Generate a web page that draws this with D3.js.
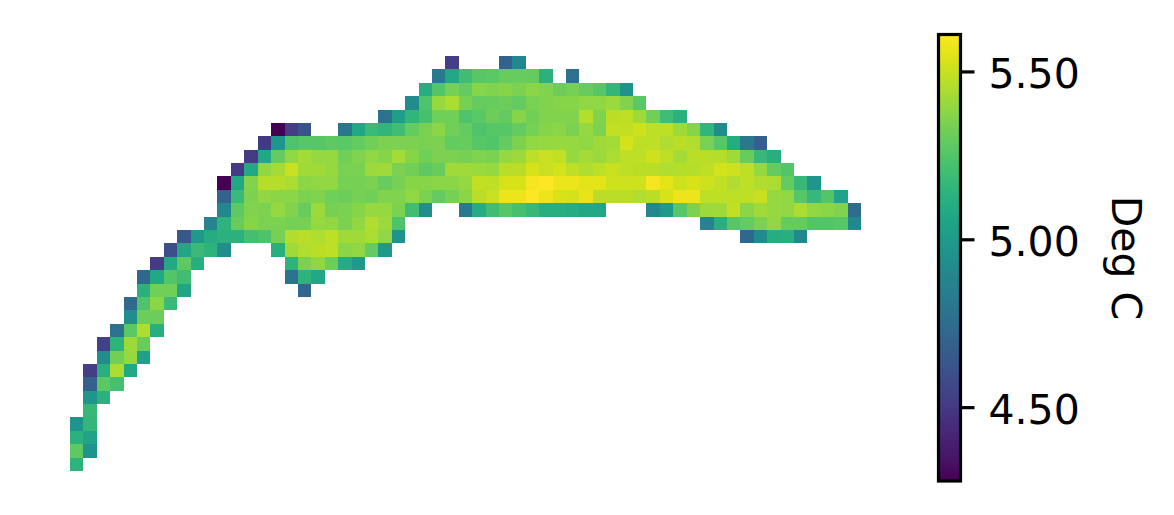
<!DOCTYPE html>
<html lang="en">
<head>
  <meta charset="UTF-8">
  <title>Deg C grid</title>
  <script src="https://d3js.org/d3.v7.min.js"></script>
  <style>
    html, body {
      margin: 0;
      padding: 0;
      background: #fff;
      overflow: hidden;
    }

    svg {
      display: block;
    }

    text {
      font-family: "DejaVu Sans", sans-serif;
      fill: #000;
    }
  </style>
</head>
<body>
  <div id="chart"></div>

  <script>
    const colorTicks = [4.5, 5.0, 5.5];
    const colorLabel = "Deg C";

    // first grid column of each row, top row first
    const rowStart = [28, 27, 26, 25, 23, 15, 14, 13, 12, 11, 11, 11, 10, 8, 7, 6, 5, 5, 4, 4, 3, 2, 2, 1, 1, 1, 1, 0, 0, 0, 0];

    // values, null = empty cell inside a row
    const rowValues = [
      [4.52, null, null, null, 4.70, 4.90],
      [4.82, 5.07, 5.20, 5.26, 5.27, 5.30, 5.30, 5.29, 5.13, null, 4.77],
      [5.11, 5.25, 5.33, 5.29, 5.37, 5.36, 5.37, 5.35, 5.38, 5.36, 5.31, 5.33, 5.30, 5.26, 5.16, 4.96],
      [4.92, 5.24, 5.40, 5.44, 5.33, 5.29, 5.30, 5.31, 5.29, 5.34, 5.36, 5.37, 5.37, 5.39, 5.39, 5.41, 5.36, 5.27],
      [4.77, 5.02, 5.15, 5.22, 5.32, 5.32, 5.24, 5.27, 5.31, 5.29, 5.37, 5.32, 5.36, 5.36, 5.36, 5.46, 5.36, 5.47, 5.48, 5.42, 5.32, 5.20, 5.13],
      [4.28, 4.52, 4.62, null, null, 4.80, 5.07, 5.18, 5.15, 5.20, 5.29, 5.34, 5.38, 5.32, 5.29, 5.24, 5.26, 5.26, 5.29, 5.33, 5.37, 5.38, 5.35, 5.40, 5.35, 5.49, 5.49, 5.51, 5.48, 5.48, 5.42, 5.37, 5.15, 4.92],
      [4.50, 4.98, 5.24, 5.26, 5.26, 5.28, 5.27, 5.29, 5.32, 5.35, 5.35, 5.35, 5.34, 5.35, 5.29, 5.30, 5.26, 5.25, 5.29, 5.35, 5.39, 5.40, 5.40, 5.40, 5.39, 5.42, 5.43, 5.52, 5.48, 5.48, 5.45, 5.47, 5.45, 5.34, 5.26, 5.10, 4.82, 4.68],
      [4.51, 5.07, 5.29, 5.39, 5.43, 5.40, 5.40, 5.32, 5.36, 5.39, 5.37, 5.43, 5.37, 5.32, 5.35, 5.35, 5.33, 5.36, 5.34, 5.40, 5.41, 5.48, 5.50, 5.49, 5.40, 5.43, 5.41, 5.44, 5.48, 5.48, 5.51, 5.48, 5.43, 5.47, 5.47, 5.46, 5.42, 5.30, 5.17, 5.12],
      [4.50, 5.08, 5.39, 5.43, 5.50, 5.42, 5.42, 5.40, 5.34, 5.34, 5.41, 5.42, 5.34, 5.32, 5.28, 5.30, 5.42, 5.42, 5.41, 5.40, 5.47, 5.47, 5.53, 5.50, 5.52, 5.48, 5.45, 5.48, 5.50, 5.48, 5.47, 5.47, 5.45, 5.46, 5.46, 5.48, 5.52, 5.51, 5.48, 5.40, 5.29, 5.25],
      [4.28, 5.07, 5.36, 5.46, 5.46, 5.44, 5.38, 5.39, 5.39, 5.33, 5.33, 5.35, 5.30, 5.33, 5.37, 5.37, 5.38, 5.38, 5.40, 5.49, 5.48, 5.53, 5.53, 5.59, 5.61, 5.57, 5.57, 5.55, 5.55, 5.51, 5.51, 5.51, 5.59, 5.55, 5.51, 5.53, 5.51, 5.49, 5.45, 5.48, 5.45, 5.44, 5.29, 5.17, 4.98],
      [4.70, 5.18, 5.35, 5.39, 5.38, 5.38, 5.35, 5.36, 5.32, 5.31, 5.33, 5.32, 5.36, 5.36, 5.39, 5.34, 5.29, 5.33, 5.38, 5.47, 5.50, 5.57, 5.57, 5.61, 5.57, 5.53, 5.52, 5.56, 5.47, 5.47, 5.47, 5.45, 5.47, 5.53, 5.57, 5.57, 5.48, 5.48, 5.48, 5.48, 5.50, 5.40, 5.39, 5.26, 5.17, 5.25, 5.05],
      [4.90, 5.28, 5.36, 5.35, 5.40, 5.36, 5.30, 5.41, 5.33, 5.35, 5.37, 5.40, 5.40, 5.35, 5.20, 4.93, null, null, 4.82, 5.10, 5.20, 5.26, 5.22, 5.17, 5.12, 5.12, 5.10, 5.08, 5.07, null, null, null, 4.90, 5.00, 5.26, 5.35, 5.41, 5.42, 5.49, 5.38, 5.42, 5.40, 5.39, 5.44, 5.39, 5.38, 5.36, 4.75],
      [4.88, 5.14, 5.30, 5.37, 5.35, 5.35, 5.33, 5.33, 5.40, 5.39, 5.35, 5.39, 5.45, 5.41, 5.24, null, null, null, null, null, null, null, null, null, null, null, null, null, null, null, null, null, null, null, null, null, null, 4.88, 5.12, 5.26, 5.29, 5.35, 5.39, 5.29, 5.29, 5.25, 5.25, 5.26, 4.90],
      [4.64, 5.00, 5.10, 5.13, 5.13, 5.21, 5.24, 5.33, 5.45, 5.47, 5.45, 5.48, 5.42, 5.42, 5.44, 5.39, 4.97, null, null, null, null, null, null, null, null, null, null, null, null, null, null, null, null, null, null, null, null, null, null, null, null, null, 4.72, 4.92, 5.11, 5.12, 4.90],
      [4.60, 5.07, 5.18, 5.14, 4.93, null, null, null, 5.12, 5.42, 5.45, 5.47, 5.48, 5.38, 5.39, 5.29, 5.00],
      [4.51, 5.08, 5.28, 5.12, null, null, null, null, null, null, 5.14, 5.35, 5.39, 5.31, 5.10, 5.00],
      [4.72, 5.08, 5.25, 5.20, null, null, null, null, null, null, null, 4.78, 5.14, 5.07],
      [5.13, 5.32, 5.32, 5.06, null, null, null, null, null, null, null, null, 4.72],
      [4.73, 5.24, 5.38, 5.18],
      [4.93, 5.31, 5.31],
      [4.78, 5.27, 5.45, 5.12],
      [4.53, 5.14, 5.41, 5.30],
      [4.92, 5.32, 5.40, 5.04],
      [4.52, 5.12, 5.44, 5.08],
      [4.68, 5.27, 5.22],
      [4.98, 5.13],
      [5.17],
      [4.97, 5.16],
      [5.13, 5.05],
      [5.28, 4.97],
      [5.14]
    ];

    const width = 1174;
    const height = 515;

    const cells = [];
    rowValues.forEach((values, row) => {
      values.forEach((value, i) => {
        if (value !== null) cells.push({ row: row, col: rowStart[row] + i, value: value });
      });
    });

    const colDomain = d3.range(59);
    const rowDomain = d3.range(rowValues.length);
    const valueExtent = d3.extent(cells, d => d.value);

    const x = d3.scaleBand().domain(colDomain).range([70, 861]);
    const y = d3.scaleBand().domain(rowDomain).range([56, 471]);
    const color = d3.scaleSequential(d3.interpolateViridis).domain(valueExtent);

    const svg = d3.select("#chart")
      .append("svg")
      .attr("width", width)
      .attr("height", height);

    // grid cells
    svg.append("g")
      .selectAll("rect")
      .data(cells)
      .enter()
      .append("rect")
      .attr("x", d => x(d.col))
      .attr("y", d => y(d.row))
      .attr("width", x.bandwidth())
      .attr("height", y.bandwidth())
      .attr("fill", d => color(d.value))
      .attr("shape-rendering", "crispEdges");

    // colour bar
    const barLeft = 938.5;
    const barRight = 960.5;
    const barTop = 34.5;
    const barBottom = 481;
    const barScale = d3.scaleLinear().domain(valueExtent).range([barBottom, barTop]);

    const gradient = svg.append("defs")
      .append("linearGradient")
      .attr("id", "viridis")
      .attr("x1", 0).attr("x2", 0)
      .attr("y1", 1).attr("y2", 0);

    gradient.selectAll("stop")
      .data(d3.range(0, 1.001, 0.02))
      .enter()
      .append("stop")
      .attr("offset", d => d)
      .attr("stop-color", d => d3.interpolateViridis(d));

    svg.append("rect")
      .attr("x", barLeft)
      .attr("y", barTop)
      .attr("width", barRight - barLeft)
      .attr("height", barBottom - barTop)
      .attr("fill", "url(#viridis)")
      .attr("stroke", "#000")
      .attr("stroke-width", 3.2);

    const axis = d3.axisRight(barScale)
      .tickValues(colorTicks)
      .tickFormat(d3.format(".2f"))
      .tickSize(14)
      .tickPadding(14);

    const axisG = svg.append("g")
      .attr("transform", `translate(${barRight},0)`)
      .call(axis);

    axisG.select(".domain").remove();
    axisG.selectAll(".tick line").attr("stroke", "#000").attr("stroke-width", 3.2);
    axisG.selectAll(".tick text")
      .attr("font-family", "'DejaVu Sans', sans-serif")
      .attr("font-size", 41)
      .attr("dy", "0.4em");

    svg.append("text")
      .attr("transform", "translate(1112,258) rotate(90)")
      .attr("text-anchor", "middle")
      .attr("font-size", 41)
      .text(colorLabel);
  </script>
</body>
</html>
